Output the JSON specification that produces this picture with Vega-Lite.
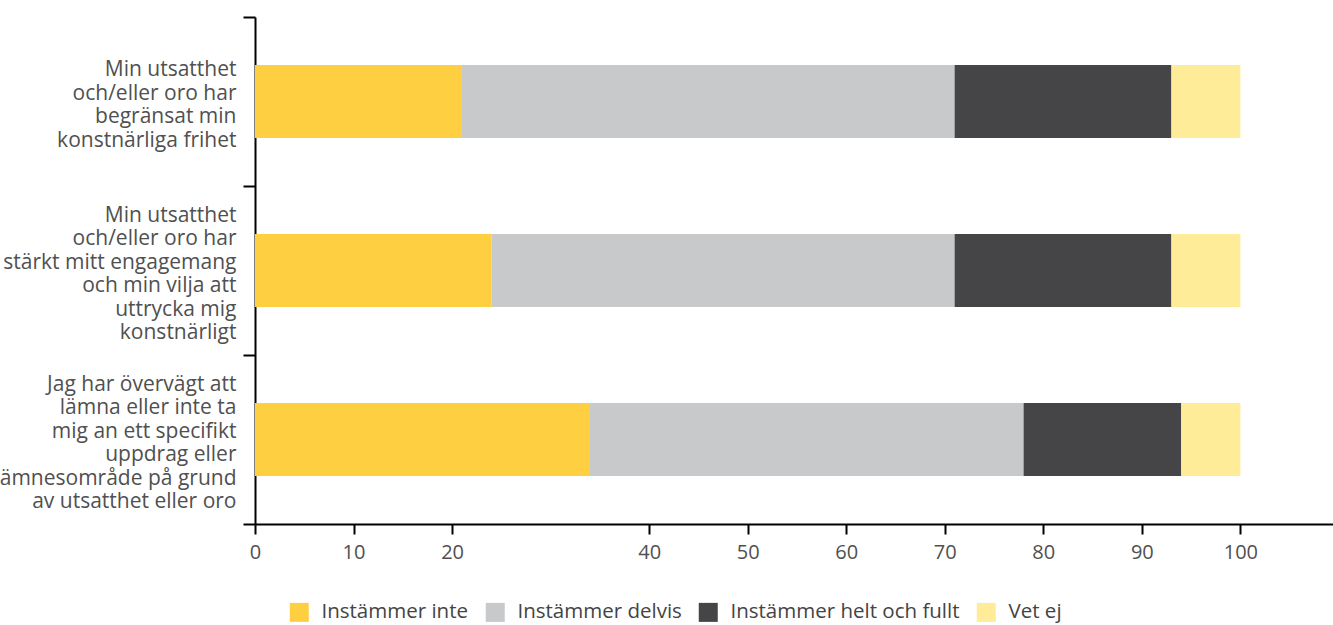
{
  "$schema": "https://vega.github.io/schema/vega-lite/v6.json",
  "autosize": {"type": "none"},
  "padding": {"left": 255, "top": 17, "right": 0, "bottom": 101},
  "width": 1078,
  "height": 507,
  "background": "white",
  "config": {
    "view": {"stroke": null},
    "font": "Open Sans",
    "axis": {"labelFont": "Open Sans", "labelColor": "#505050", "domainColor": "#000000", "tickColor": "#000000", "domainWidth": 2, "tickWidth": 2, "grid": false, "title": null}
  },
  "data": {
    "values": [
      {"fraga": "Min utsatthet|och/eller oro har|begränsat min|konstnärliga frihet", "svar": "Instämmer inte", "nr": 1, "andel": 21},
      {"fraga": "Min utsatthet|och/eller oro har|begränsat min|konstnärliga frihet", "svar": "Instämmer delvis", "nr": 2, "andel": 50},
      {"fraga": "Min utsatthet|och/eller oro har|begränsat min|konstnärliga frihet", "svar": "Instämmer helt och fullt", "nr": 3, "andel": 22},
      {"fraga": "Min utsatthet|och/eller oro har|begränsat min|konstnärliga frihet", "svar": "Vet ej", "nr": 4, "andel": 7},
      {"fraga": "Min utsatthet|och/eller oro har|stärkt mitt engagemang|och min vilja att|uttrycka mig|konstnärligt", "svar": "Instämmer inte", "nr": 1, "andel": 24},
      {"fraga": "Min utsatthet|och/eller oro har|stärkt mitt engagemang|och min vilja att|uttrycka mig|konstnärligt", "svar": "Instämmer delvis", "nr": 2, "andel": 47},
      {"fraga": "Min utsatthet|och/eller oro har|stärkt mitt engagemang|och min vilja att|uttrycka mig|konstnärligt", "svar": "Instämmer helt och fullt", "nr": 3, "andel": 22},
      {"fraga": "Min utsatthet|och/eller oro har|stärkt mitt engagemang|och min vilja att|uttrycka mig|konstnärligt", "svar": "Vet ej", "nr": 4, "andel": 7},
      {"fraga": "Jag har övervägt att|lämna eller inte ta|mig an ett specifikt|uppdrag eller|ämnesområde på grund|av utsatthet eller oro", "svar": "Instämmer inte", "nr": 1, "andel": 34},
      {"fraga": "Jag har övervägt att|lämna eller inte ta|mig an ett specifikt|uppdrag eller|ämnesområde på grund|av utsatthet eller oro", "svar": "Instämmer delvis", "nr": 2, "andel": 44},
      {"fraga": "Jag har övervägt att|lämna eller inte ta|mig an ett specifikt|uppdrag eller|ämnesområde på grund|av utsatthet eller oro", "svar": "Instämmer helt och fullt", "nr": 3, "andel": 16},
      {"fraga": "Jag har övervägt att|lämna eller inte ta|mig an ett specifikt|uppdrag eller|ämnesområde på grund|av utsatthet eller oro", "svar": "Vet ej", "nr": 4, "andel": 6}
    ]
  },
  "mark": {"type": "bar", "height": {"band": 0.432}},
  "encoding": {
    "y": {
      "field": "fraga", "type": "nominal", "sort": null,
      "scale": {"paddingInner": 0, "paddingOuter": 0},
      "axis": {
        "labelExpr": "length(split(datum.label, '|')) < 6 ? split('|' + datum.label + '|', '|') : split(datum.label, '|')",
        "labelFontSize": 21, "labelLineHeight": 23.5, "labelLimit": 0,
        "tickSize": 12, "labelPadding": 7, "tickBand": "extent",
        "labelOffset": -55.5
      }
    },
    "x": {
      "field": "andel", "type": "quantitative", "stack": "zero",
      "scale": {"domain": [0, 109.4], "nice": false},
      "axis": {
        "values": [0, 10, 20, 40, 50, 60, 70, 80, 90, 100],
        "labelFontSize": 20, "tickSize": 10, "labelPadding": 8, "labelFlush": false
      }
    },
    "order": {"field": "nr", "type": "quantitative"},
    "color": {
      "field": "svar", "type": "nominal",
      "sort": ["Instämmer inte", "Instämmer delvis", "Instämmer helt och fullt", "Vet ej"],
      "scale": {
        "domain": ["Instämmer inte", "Instämmer delvis", "Instämmer helt och fullt", "Vet ej"],
        "range": ["#FDCF41", "#C8C9CB", "#454547", "#FEEC98"]
      },
      "legend": {
        "title": null, "orient": "none", "direction": "horizontal",
        "legendX": 34, "legendY": 585,
        "symbolType": "square", "symbolSize": 361, "symbolStrokeWidth": 0,
        "labelFontSize": 20.5, "labelColor": "#444444", "labelFont": "Open Sans",
        "labelOffset": 12, "columnPadding": 16, "labelLimit": 0
      }
    }
  }
}
